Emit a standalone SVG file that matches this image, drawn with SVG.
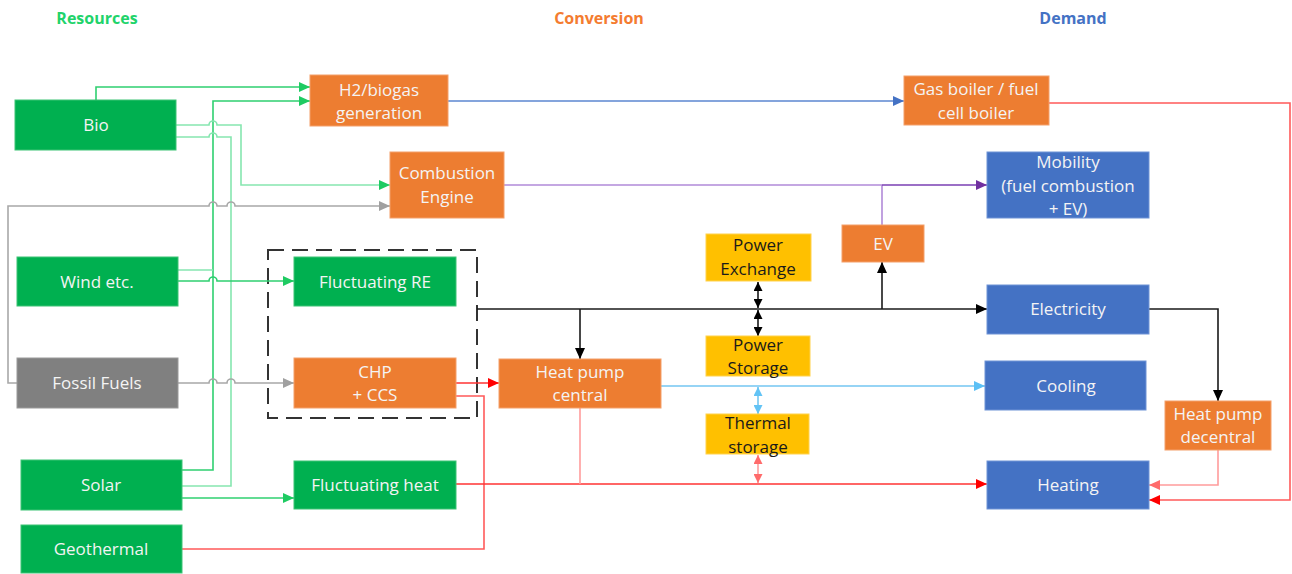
<svg xmlns="http://www.w3.org/2000/svg" width="1292" height="574" viewBox="0 0 1292 574">
  <style>
    .hdr { font-family: "Open Sans", "Liberation Sans", sans-serif; font-size: 16px; font-weight: bold; text-anchor: middle; }
    .lbl { font-family: "Open Sans", "Liberation Sans", sans-serif; font-size: 17px; text-anchor: middle; fill: #f4f4f4; }
    .dark { fill: #1a1a1a; }
    .res { fill: #00b050; stroke: #3cc374; stroke-width: 1; }
    .fossil { fill: #808080; stroke: #9a9a9a; stroke-width: 1; }
    .conv { fill: #ed7d31; stroke: #f4a06a; stroke-width: 1; }
    .dem { fill: #4472c4; stroke: #6f93d6; stroke-width: 1; }
    .sto { fill: #ffc000; stroke: #ffd24d; stroke-width: 1; }
    .c { fill: none; stroke-width: 1.6; }
    .green { stroke: #2fd070; }
    .pale { stroke: #86e6b0; }
    .grey { stroke: #a8a8a8; }
    .blue { stroke: #5b86d0; }
    .purple { stroke: #b18ad8; }
    .purple2 { stroke: #7a3fb3; }
    .black { stroke: #1a1a1a; }
    .sky { stroke: #73c6f2; }
    .red { stroke: #ff3333; }
    .red2 { stroke: #ff5a5a; }
    .pink { stroke: #ff9c9c; }
  </style>
  <defs>
    <marker id="aGreen" markerUnits="userSpaceOnUse" markerWidth="11" markerHeight="10" refX="11" refY="5" orient="auto"><path d="M0,0 L11,5 L0,10 z" fill="#1ecb62"/></marker>
    <marker id="aGrey" markerUnits="userSpaceOnUse" markerWidth="11" markerHeight="10" refX="11" refY="5" orient="auto"><path d="M0,0 L11,5 L0,10 z" fill="#a0a0a0"/></marker>
    <marker id="aBlue" markerUnits="userSpaceOnUse" markerWidth="11" markerHeight="10" refX="11" refY="5" orient="auto"><path d="M0,0 L11,5 L0,10 z" fill="#4472c4"/></marker>
    <marker id="aPurple" markerUnits="userSpaceOnUse" markerWidth="11" markerHeight="10" refX="11" refY="5" orient="auto"><path d="M0,0 L11,5 L0,10 z" fill="#7030a0"/></marker>
    <marker id="aBlack" markerUnits="userSpaceOnUse" markerWidth="11" markerHeight="10" refX="11" refY="5" orient="auto"><path d="M0,0 L11,5 L0,10 z" fill="#000"/></marker>
    <marker id="aSky" markerUnits="userSpaceOnUse" markerWidth="11" markerHeight="10" refX="11" refY="5" orient="auto"><path d="M0,0 L11,5 L0,10 z" fill="#5cc0f5"/></marker>
    <marker id="aRed" markerUnits="userSpaceOnUse" markerWidth="11" markerHeight="10" refX="11" refY="5" orient="auto"><path d="M0,0 L11,5 L0,10 z" fill="#ff0000"/></marker>
    <marker id="aPink" markerUnits="userSpaceOnUse" markerWidth="11" markerHeight="10" refX="11" refY="5" orient="auto"><path d="M0,0 L11,5 L0,10 z" fill="#ff6b6b"/></marker>
    <!-- small heads for the two-way storage links -->
    <marker id="dBlack" markerUnits="userSpaceOnUse" markerWidth="9" markerHeight="9" refX="9" refY="4.5" orient="auto-start-reverse"><path d="M0,0 L9,4.5 L0,9 z" fill="#000"/></marker>
    <marker id="dSky" markerUnits="userSpaceOnUse" markerWidth="9" markerHeight="9" refX="9" refY="4.5" orient="auto-start-reverse"><path d="M0,0 L9,4.5 L0,9 z" fill="#62c3f5"/></marker>
    <marker id="dRed" markerUnits="userSpaceOnUse" markerWidth="9" markerHeight="9" refX="9" refY="4.5" orient="auto-start-reverse"><path d="M0,0 L9,4.5 L0,9 z" fill="#ff6b6b"/></marker>
  </defs>

  <rect width="1292" height="574" fill="#fff"/>

  <!-- column headings -->
  <text class="hdr" x="97" y="24" fill="#21d36a">Resources</text>
  <text class="hdr" x="599" y="24" fill="#f47c30">Conversion</text>
  <text class="hdr" x="1073" y="24" fill="#4472c4">Demand</text>

  <!-- dashed grouping of fluctuating RE and CHP -->
  <rect x="268" y="250" width="209" height="168" fill="none" stroke="#333" stroke-width="2" stroke-dasharray="16 8"/>

  <g id="connectors">
    <!-- resources to conversion -->
    <path class="c green" d="M96,100 V87 H310" marker-end="url(#aGreen)"/>
    <path class="c green" d="M182,470 H213 V101 H310" marker-end="url(#aGreen)"/>
    <path class="c pale" d="M178,270 H213"/>
    <path class="c pale" d="M176,125 H209 a4,4 0 0 1 8,0 H241 V185 H390" marker-end="url(#aGreen)"/>
    <path class="c pale" d="M176,137 H209 a4,4 0 0 1 8,0 H231 V486 H182"/>
    <path class="c green" d="M178,281 H209 a4,4 0 0 1 8,0 H294" marker-end="url(#aGreen)"/>
    <path class="c green" d="M182,498 H294" marker-end="url(#aGreen)"/>
    <path class="c grey" d="M17,383 H8 V206 H209 a4,4 0 0 1 8,0 H227 a4,4 0 0 1 8,0 H390" marker-end="url(#aGrey)"/>
    <path class="c grey" d="M178,383 H209 a4,4 0 0 1 8,0 H227 a4,4 0 0 1 8,0 H294" marker-end="url(#aGrey)"/>
    <path class="c red2" d="M182,549 H484 V396 H456"/>

    <!-- gas and fuel paths -->
    <path class="c blue" d="M448,101 H904" marker-end="url(#aBlue)"/>
    <path class="c purple" d="M504,185 H882"/>
    <path class="c purple" d="M882,225 V185"/>
    <path class="c purple2" d="M882,185 H987" marker-end="url(#aPurple)"/>

    <!-- electricity bus -->
    <path class="c black" d="M477,309 H987" marker-end="url(#aBlack)"/>
    <path class="c black" d="M580,309 V359" marker-end="url(#aBlack)"/>
    <path class="c black" d="M882,309 V262" marker-end="url(#aBlack)"/>
    <path class="c black" d="M1149,309 H1218 V401" marker-end="url(#aBlack)"/>
    <path class="c black" d="M758,282 V308" marker-start="url(#dBlack)" marker-end="url(#dBlack)"/>
    <path class="c black" d="M758,310 V336" marker-start="url(#dBlack)" marker-end="url(#dBlack)"/>

    <!-- cooling -->
    <path class="c sky" d="M661,386 H985" marker-end="url(#aSky)"/>
    <path class="c sky" d="M758,387 V414" marker-start="url(#dSky)" marker-end="url(#dSky)"/>

    <!-- heat paths -->
    <path class="c red" d="M456,383 H499" marker-end="url(#aRed)"/>
    <path class="c red" stroke-width="2" d="M456,484 H987" marker-end="url(#aRed)"/>
    <path class="c pink" d="M580,408 V484"/>
    <path class="c pink" d="M758,455 V483" marker-start="url(#dRed)" marker-end="url(#dRed)"/>
    <path class="c red2" d="M1049,103 H1290 V500 H1149" marker-end="url(#aRed)"/>
    <path class="c pink" d="M1218,450 V485 H1149" marker-end="url(#aPink)"/>
  </g>

  <!-- resources -->
  <g id="bio"><rect class="res" x="15" y="100" width="161" height="50"/><text class="lbl" x="96" y="131">Bio</text></g>
  <g id="wind"><rect class="res" x="17" y="257" width="161" height="49"/><text class="lbl" x="97" y="288">Wind etc.</text></g>
  <g id="fossil"><rect class="fossil" x="17" y="358" width="161" height="50"/><text class="lbl" x="97" y="389">Fossil Fuels</text></g>
  <g id="solar"><rect class="res" x="21" y="460" width="161" height="50"/><text class="lbl" x="101" y="491">Solar</text></g>
  <g id="geothermal"><rect class="res" x="21" y="525" width="161" height="48"/><text class="lbl" x="101" y="555">Geothermal</text></g>

  <!-- conversion -->
  <g id="h2biogas"><rect class="conv" x="310" y="75" width="138" height="51"/><text class="lbl" x="379" y="96">H2/biogas</text><text class="lbl" x="379" y="119">generation</text></g>
  <g id="combustion"><rect class="conv" x="390" y="152" width="114" height="66"/><text class="lbl" x="447" y="179">Combustion</text><text class="lbl" x="447" y="203">Engine</text></g>
  <g id="fluctRE"><rect class="res" x="294" y="257" width="162" height="49"/><text class="lbl" x="375" y="288">Fluctuating RE</text></g>
  <g id="chp"><rect class="conv" x="294" y="358" width="162" height="50"/><text class="lbl" x="375" y="378">CHP</text><text class="lbl" x="375" y="401">+ CCS</text></g>
  <g id="fluctHeat"><rect class="res" x="294" y="461" width="162" height="48"/><text class="lbl" x="375" y="491">Fluctuating heat</text></g>
  <g id="hpCentral"><rect class="conv" x="499" y="359" width="162" height="49"/><text class="lbl" x="580" y="378">Heat pump</text><text class="lbl" x="580" y="401">central</text></g>
  <g id="powerExchange"><rect class="sto" x="706" y="234" width="105" height="47"/><text class="lbl dark" x="758" y="251">Power</text><text class="lbl dark" x="758" y="275">Exchange</text></g>
  <g id="powerStorage"><rect class="sto" x="706" y="336" width="104" height="40"/><text class="lbl dark" x="758" y="351">Power</text><text class="lbl dark" x="758" y="374">Storage</text></g>
  <g id="thermalStorage"><rect class="sto" x="706" y="414" width="103" height="40"/><text class="lbl dark" x="758" y="429">Thermal</text><text class="lbl dark" x="758" y="453">storage</text></g>
  <g id="ev"><rect class="conv" x="842" y="225" width="82" height="37"/><text class="lbl" x="883" y="250">EV</text></g>
  <g id="gasBoiler"><rect class="conv" x="904" y="76" width="145" height="49"/><text class="lbl" x="976" y="95">Gas boiler / fuel</text><text class="lbl" x="976" y="119">cell boiler</text></g>
  <g id="hpDecentral"><rect class="conv" x="1165" y="401" width="106" height="49"/><text class="lbl" x="1218" y="420">Heat pump</text><text class="lbl" x="1218" y="443">decentral</text></g>

  <!-- demand -->
  <g id="mobility"><rect class="dem" x="987" y="152" width="162" height="66"/><text class="lbl" x="1068" y="168">Mobility</text><text class="lbl" x="1068" y="192">(fuel combustion</text><text class="lbl" x="1068" y="215">+ EV)</text></g>
  <g id="electricity"><rect class="dem" x="987" y="285" width="162" height="49"/><text class="lbl" x="1068" y="315">Electricity</text></g>
  <g id="cooling"><rect class="dem" x="985" y="361" width="161" height="49"/><text class="lbl" x="1066" y="392">Cooling</text></g>
  <g id="heating"><rect class="dem" x="987" y="461" width="162" height="48"/><text class="lbl" x="1068" y="491">Heating</text></g>
</svg>
